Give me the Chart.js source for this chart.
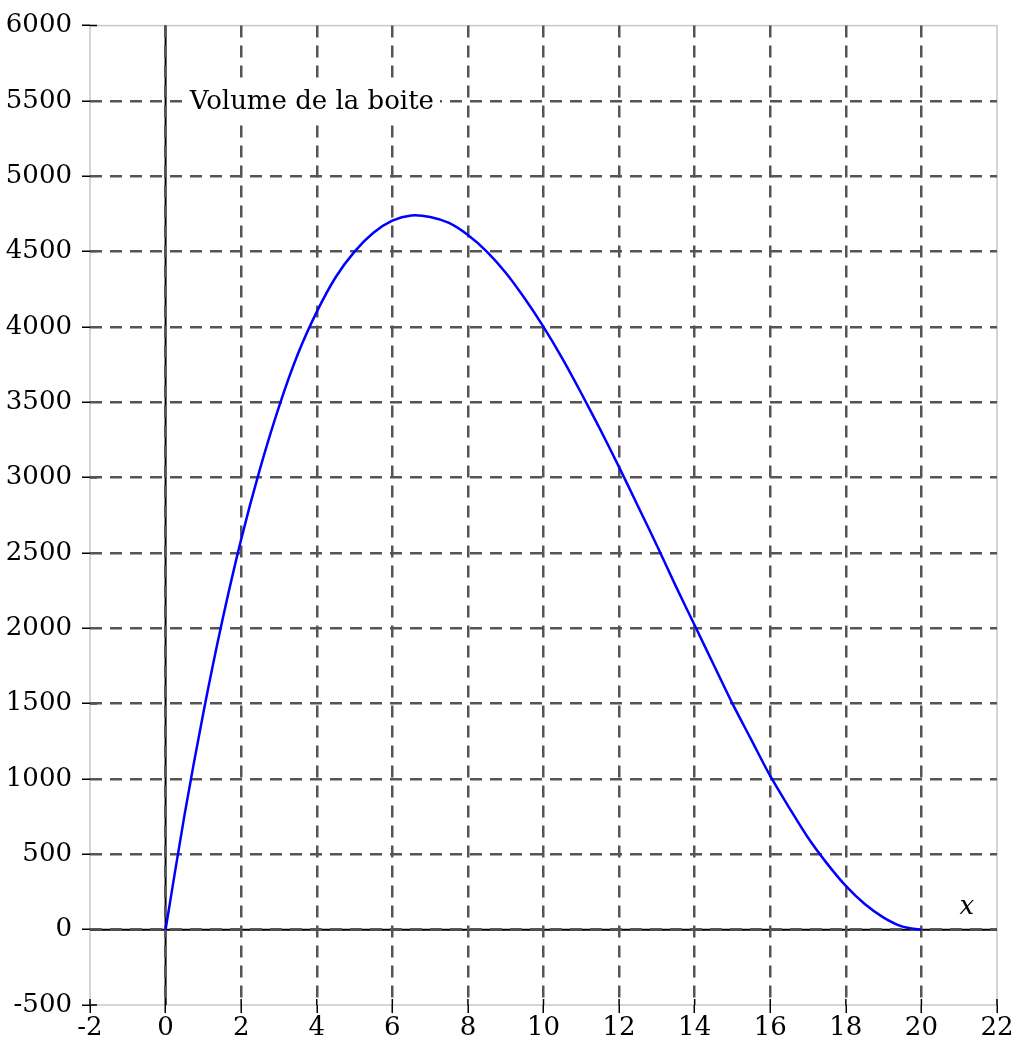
<!DOCTYPE html>
<html>
<head>
<meta charset="utf-8">
<script src="https://cdn.jsdelivr.net/npm/chart.js@4.4.1/dist/chart.umd.min.js"></script>
<style>
html, body { margin: 0; padding: 0; background: #fff; }
#contenedor { width: 1015px; height: 1045px; }
</style>
</head>
<body>
<div id="contenedor"><canvas id="graficoVolume"></canvas></div>
<script>
// valeurs (pas de 0,5)
const valeursX = [0, 0.5, 1, 1.5, 2, 2.5, 3, 3.5, 4, 4.5, 5, 5.5, 6, 6.5, 7, 7.5, 8, 8.5, 9, 9.5, 10,
  10.5, 11, 11.5, 12, 12.5, 13, 13.5, 14, 14.5, 15, 15.5, 16, 16.5, 17, 17.5, 18, 18.5, 19, 19.5, 20]
const volumes = [0, 760, 1440, 2050, 2590, 3060, 3470, 3820, 4100, 4330, 4500, 4625, 4705, 4740, 4730, 4690, 4610, 4500, 4360, 4190, 4000,
  3790, 3560, 3320, 3070, 2810, 2550, 2280, 2020, 1760, 1500, 1260, 1020, 810, 610, 440, 290, 170, 80, 20, 0]
const ticksX = [-2, 0, 2, 4, 6, 8, 10, 12, 14, 16, 18, 20, 22]
const ticksY = [-500, 0, 500, 1000, 1500, 2000, 2500, 3000, 3500, 4000, 4500, 5000, 5500, 6000]
const titreCourbe = "Volume de la boite"
const nomAxeX = "x"

const police = '"DejaVu Serif", serif'
const taille = 26
const grisGrille = "#555555"
const grisCadre = "#c8c8c8"

// cadre, axes et petits traits de graduation (sous la grille)
const cadreAxes = {
  id: "cadreAxes",
  beforeDraw(chart) {
    const {ctx, chartArea: a, scales: {x, y}} = chart
    ctx.save()
    ctx.strokeStyle = grisCadre
    ctx.lineWidth = 1.5
    ctx.strokeRect(a.left, a.top, a.right - a.left, a.bottom - a.top)
    ctx.strokeStyle = "#000"
    ctx.lineWidth = 2
    const x0 = x.getPixelForValue(0), y0 = y.getPixelForValue(0)
    ctx.beginPath()
    ctx.moveTo(a.left, y0); ctx.lineTo(a.right, y0)
    ctx.moveTo(x0, a.top); ctx.lineTo(x0, a.bottom)
    ctx.stroke()
    ctx.lineWidth = 1.5
    ctx.beginPath()
    ticksY.forEach(v => {
      const py = y.getPixelForValue(v)
      ctx.moveTo(a.left, py); ctx.lineTo(a.left + 7, py)
    })
    ticksX.forEach(v => {
      const px = x.getPixelForValue(v)
      ctx.moveTo(px, a.bottom); ctx.lineTo(px, a.bottom - 6)
    })
    ctx.stroke()
    ctx.restore()
  },
  beforeDatasetsDraw(chart) {
    const {ctx, scales: {x, y}} = chart
    ctx.save()
    ctx.font = taille + "px " + police
    const tx = x.getPixelForValue(0.64), ty = y.getPixelForValue(5500)
    const w = ctx.measureText(titreCourbe).width
    ctx.fillStyle = "#fff"
    ctx.fillRect(tx - 6, ty - 17, w + 12, 36)
    ctx.fillStyle = "#000"
    ctx.textBaseline = "middle"
    ctx.textAlign = "left"
    ctx.fillText(titreCourbe, tx, ty + 1)
    ctx.font = "italic " + taille + "px " + police
    ctx.textAlign = "center"
    ctx.fillText(nomAxeX, x.getPixelForValue(21.2), y.getPixelForValue(150))
    ctx.restore()
  }
}

const couleurGrille = (bornes) => (c) => {
  const v = c.tick ? c.tick.value : null
  return (v === bornes[0] || v === bornes[1]) ? "rgba(0,0,0,0)" : grisGrille
}

new Chart(document.getElementById("graficoVolume"), {
  type: "scatter",
  data: {
    datasets: [{
      label: titreCourbe,
      data: valeursX.map((v, i) => ({x: v, y: volumes[i]})),
      showLine: true,
      borderColor: "#0000ff",
      borderWidth: 2.5,
      pointRadius: 0,
      tension: 0.3,
      fill: false
    }]
  },
  options: {
    responsive: true,
    maintainAspectRatio: false,
    animation: false,
    layout: { padding: { top: 22, right: 18, left: 0, bottom: 0 } },
    plugins: { legend: { display: false }, tooltip: { enabled: false } },
    scales: {
      x: {
        type: "linear",
        min: -2,
        max: 22,
        afterBuildTicks: s => { s.ticks = ticksX.map(v => ({value: v})) },
        afterFit: s => { s.height = 40 },
        grid: { color: couleurGrille([-2, 22]), lineWidth: 2.5, tickLength: 8, tickColor: "#000", tickWidth: 1.5 },
        border: { display: false, dash: [12, 8] },
        ticks: { color: "#000", font: { family: police, size: taille }, padding: 0, maxRotation: 0, callback: v => String(v) }
      },
      y: {
        type: "linear",
        min: -500,
        max: 6000,
        afterBuildTicks: s => { s.ticks = ticksY.map(v => ({value: v})) },
        afterFit: s => { s.width = 90 },
        grid: { color: couleurGrille([-500, 6000]), lineWidth: 2.5, tickLength: 8, tickColor: "#000", tickWidth: 1.5 },
        border: { display: false, dash: [12, 8] },
        ticks: { color: "#000", font: { family: police, size: taille }, padding: 10, callback: v => String(v) }
      }
    }
  },
  plugins: [cadreAxes]
})
</script>
</body>
</html>
